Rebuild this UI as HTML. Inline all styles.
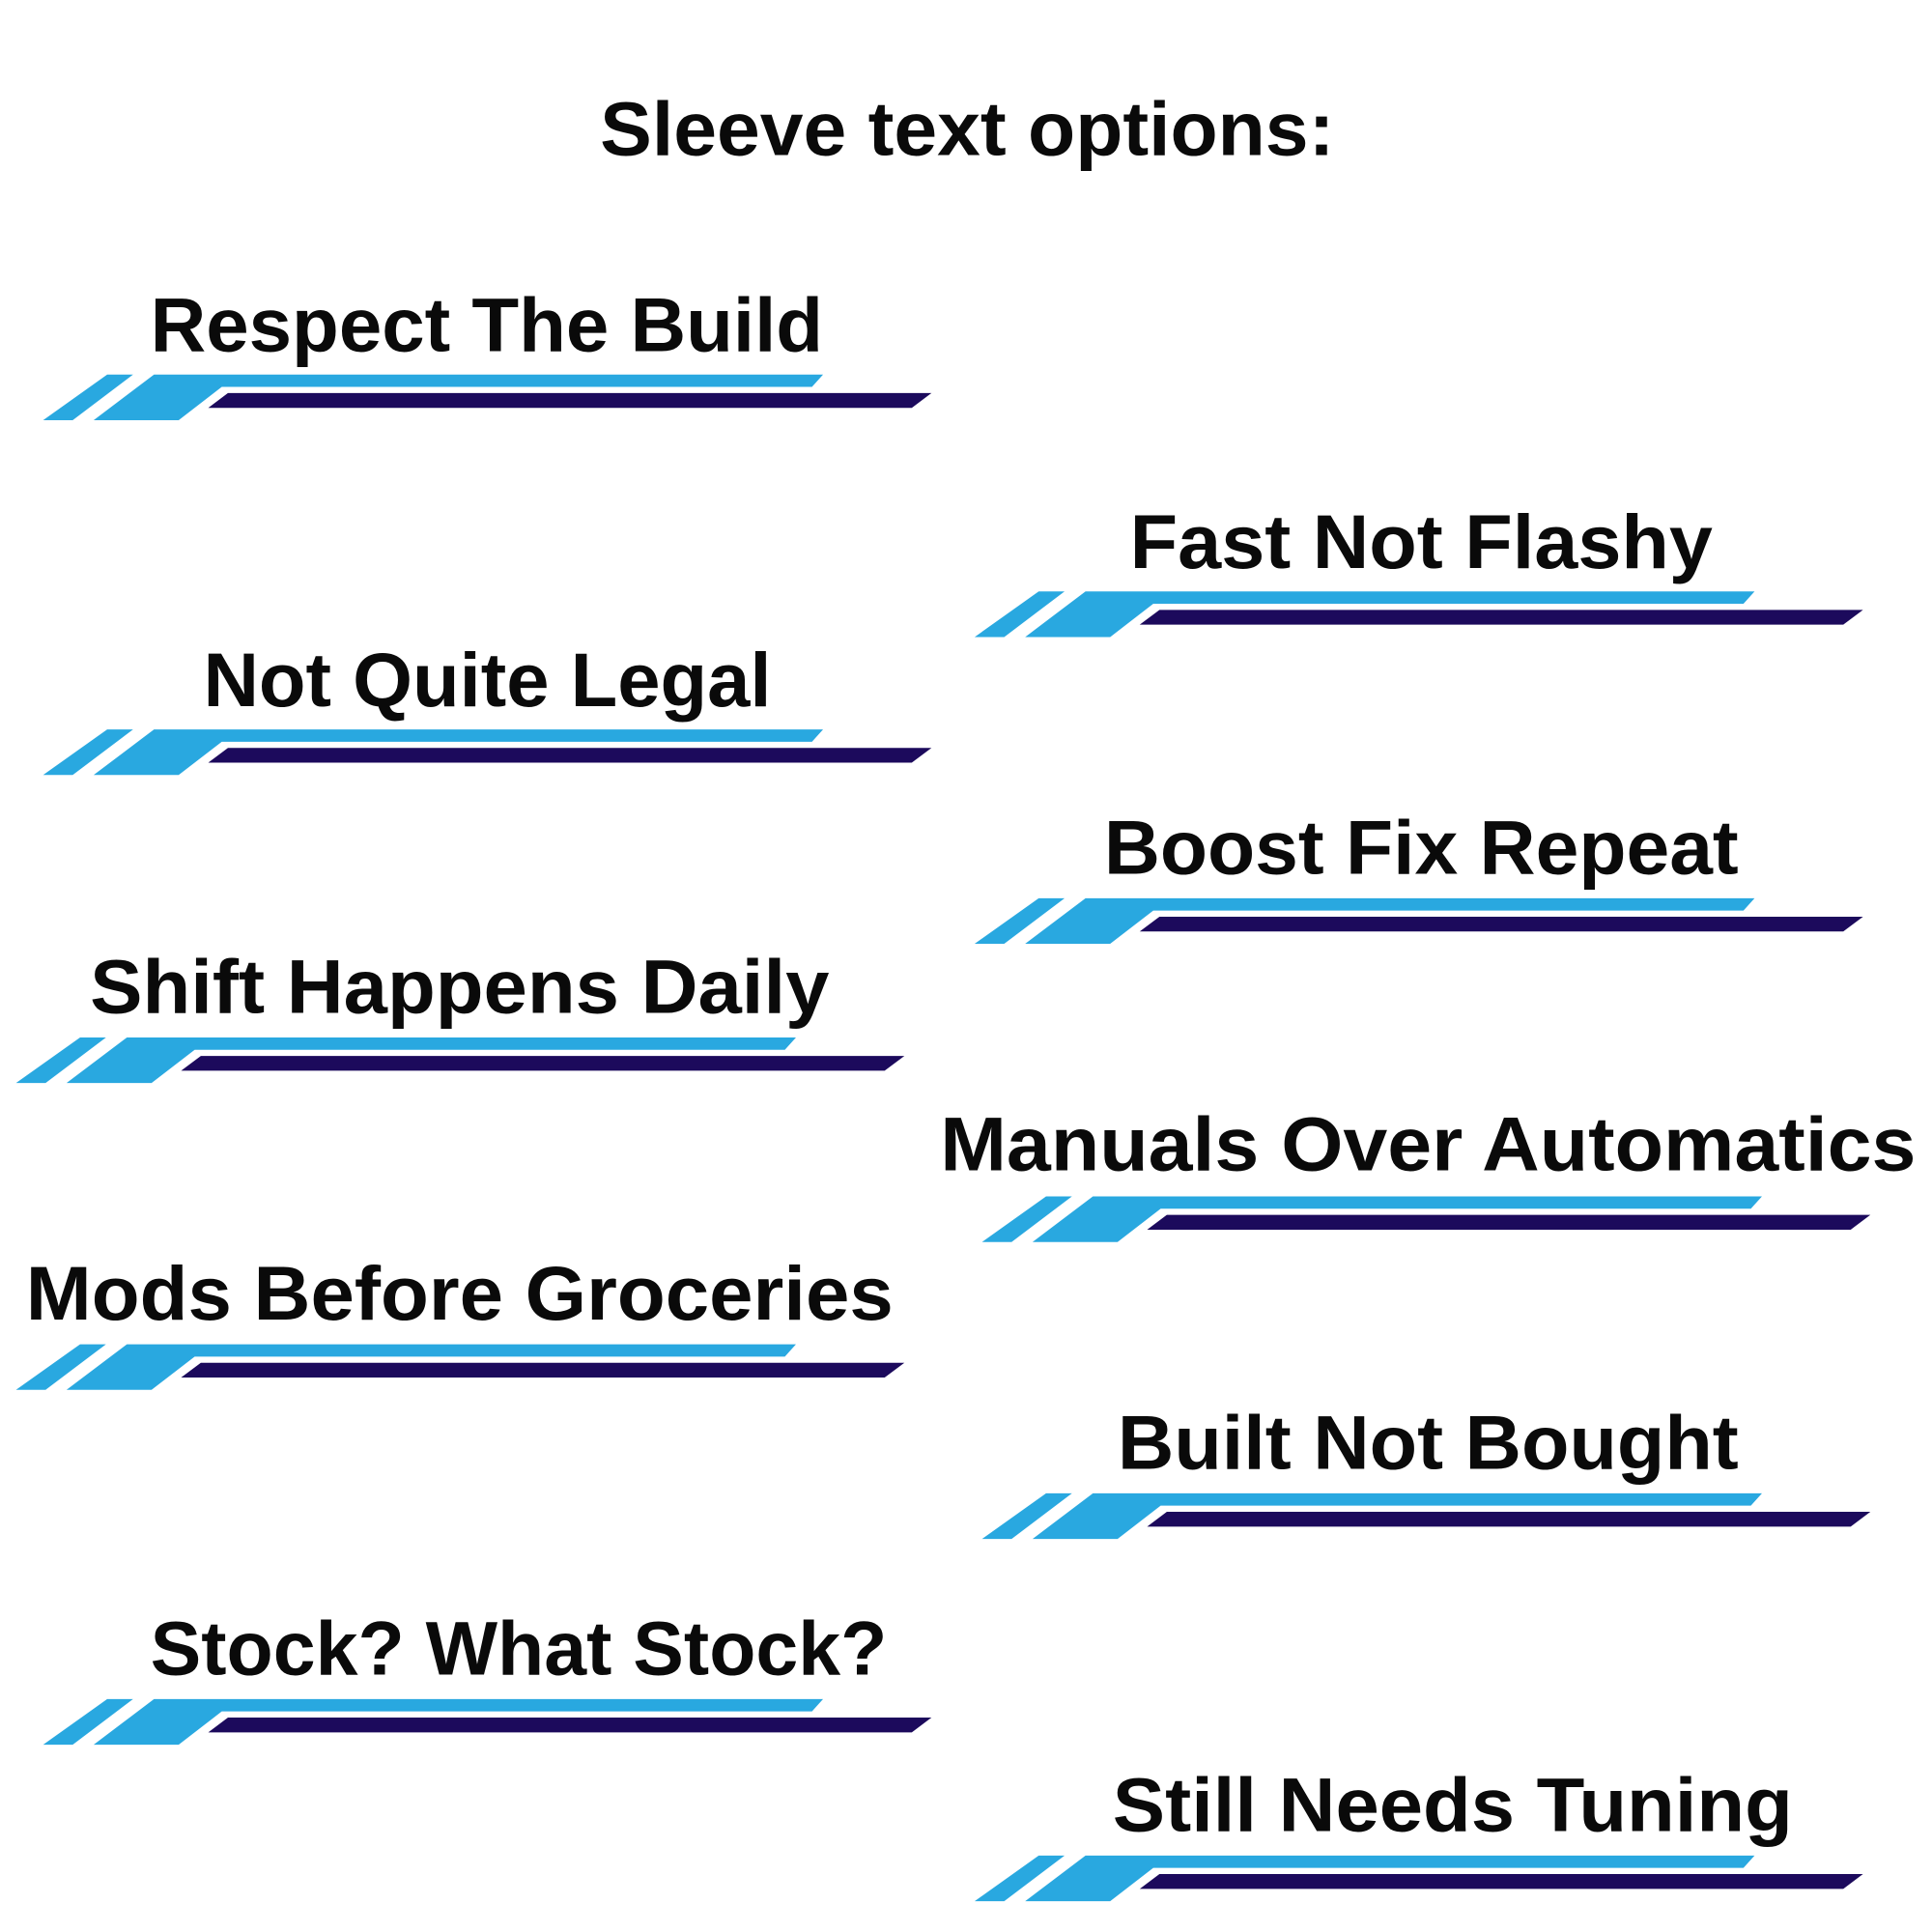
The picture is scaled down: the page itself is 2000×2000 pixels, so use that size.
<!DOCTYPE html>
<html><head><meta charset="utf-8"><style>
html,body{margin:0;padding:0;background:#fff;width:2000px;height:2000px;overflow:hidden}
svg{display:block}
text{font-family:"Liberation Sans",Arial,sans-serif;font-weight:bold;fill:#0a0a0a;font-size:62px}
</style></head><body>
<svg width="2000" height="2000" viewBox="0 0 1568 1568" xmlns="http://www.w3.org/2000/svg">
<defs>
<g id="s">
<polygon points="52,0 73,0 24,37 0,37" fill="#29a8e0"/>
<polygon points="90,0 633,0 624,10 145,10 110,37 41,37" fill="#29a8e0"/>
<polygon points="150,15 721,15 705,27 134,27" fill="#1c0a5c"/>
</g>
</defs>
<text x="487" y="126" textLength="596" lengthAdjust="spacingAndGlyphs">Sleeve text options:</text>

<use href="#s" x="35" y="304"/>
<text x="122" y="285" textLength="546" lengthAdjust="spacingAndGlyphs">Respect The Build</text>

<use href="#s" x="791" y="480"/>
<text x="917" y="461" textLength="473" lengthAdjust="spacingAndGlyphs">Fast Not Flashy</text>

<use href="#s" x="35" y="592"/>
<text x="165" y="573" textLength="461" lengthAdjust="spacingAndGlyphs">Not Quite Legal</text>

<use href="#s" x="791" y="729"/>
<text x="896" y="709" textLength="515" lengthAdjust="spacingAndGlyphs">Boost Fix Repeat</text>

<use href="#s" x="13" y="842"/>
<text x="73" y="822" textLength="600" lengthAdjust="spacingAndGlyphs">Shift Happens Daily</text>

<use href="#s" x="797" y="971"/>
<text x="763" y="950" textLength="792" lengthAdjust="spacingAndGlyphs">Manuals Over Automatics</text>

<use href="#s" x="13" y="1091"/>
<text x="21" y="1071" textLength="704" lengthAdjust="spacingAndGlyphs">Mods Before Groceries</text>

<use href="#s" x="797" y="1212"/>
<text x="907" y="1192" textLength="504" lengthAdjust="spacingAndGlyphs">Built Not Bought</text>

<use href="#s" x="35" y="1379"/>
<text x="122" y="1359" textLength="598" lengthAdjust="spacingAndGlyphs">Stock? What Stock?</text>

<use href="#s" x="791" y="1506"/>
<text x="903" y="1486" textLength="552" lengthAdjust="spacingAndGlyphs">Still Needs Tuning</text>
</svg>
</body></html>
